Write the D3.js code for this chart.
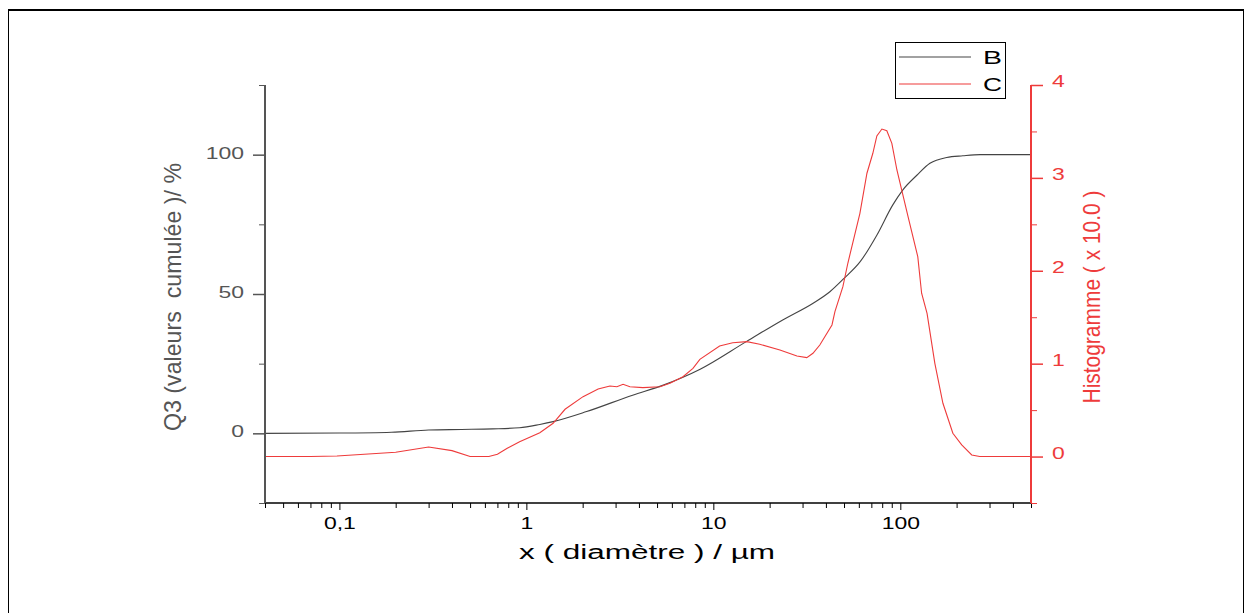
<!DOCTYPE html>
<html>
<head>
<meta charset="utf-8">
<script src="https://cdn.jsdelivr.net/npm/d3@7"></script>
<style>
  html, body { margin: 0; padding: 0; background: #fff; }
  svg { display: block; font-family: "Liberation Sans", Arial, sans-serif; }
</style>
</head>
<body>
<svg id="chart" width="1247" height="613"></svg>
<script>
// ---- data ----
const xTickValues = [0.1, 1, 10, 100];
const xTickLabels = ["0,1", "1", "10", "100"];
const leftTickValues = [0, 50, 100];
const rightTickValues = [0, 1, 2, 3, 4];

// B : cumulative curve Q3 (%), left axis
const bX = [0.04, 0.1, 0.19, 0.3, 0.45, 0.66, 0.92, 1.18, 1.39, 2.1, 3.7, 5.4, 8.5, 15, 23.5, 34, 42, 50, 61, 75, 91, 103, 123, 144, 177, 216, 267, 500];
const bY = [0, 0.1, 0.4, 1.2, 1.4, 1.6, 2.0, 3.2, 4.2, 7.8, 13.7, 17.3, 23.0, 32.9, 40.7, 46.6, 50.8, 55.6, 61.6, 71.2, 81.9, 87.3, 92.7, 96.9, 99.0, 99.6, 100, 100];

// C : histogram (x 10.0), right axis
const cX = [0.04, 0.07, 0.097, 0.2, 0.3, 0.4, 0.5, 0.63, 0.7, 0.79, 0.92, 1.18, 1.39, 1.61, 2.01, 2.42, 2.8, 3.05, 3.29, 3.58, 4.2, 5.18, 5.86, 6.88, 7.78, 8.47, 10.8, 12.7, 15.1, 17.7, 22.7, 28, 31.6, 34.1, 37.1, 43.1, 44.7, 49.3, 52.4, 60.8, 66.3, 71.3, 74.9, 79.7, 84.7, 90.1, 95.9, 110, 124, 130, 139, 153, 169, 191, 213, 241, 266, 500];
const cY = [0, 0, 0.006, 0.046, 0.103, 0.064, 0.0, 0.0, 0.025, 0.089, 0.16, 0.257, 0.358, 0.509, 0.645, 0.728, 0.76, 0.752, 0.778, 0.752, 0.742, 0.752, 0.789, 0.86, 0.95, 1.047, 1.19, 1.226, 1.237, 1.209, 1.147, 1.083, 1.065, 1.112, 1.201, 1.417, 1.56, 1.829, 2.081, 2.619, 3.05, 3.265, 3.451, 3.526, 3.508, 3.372, 3.085, 2.582, 2.152, 1.758, 1.542, 1.004, 0.574, 0.251, 0.125, 0.017, 0, 0];

const seriesNames = ["B", "C"];

// ---- layout ----
const svg = d3.select("#chart");
const plot = { left: 265, right: 1031, top: 85, bottom: 503 };
const grey = "#555";
const red = "#ee3b3b";
const stretch = 1.35; // horizontal stretch of horizontal texts in the reference
const tickFont = 17;

const x = d3.scaleLog().domain([0.04, 500]).range([plot.left, plot.right]);
const yL = d3.scaleLinear().domain([-25, 125]).range([plot.bottom, plot.top]);
const yR = d3.scaleLinear().domain([-0.5, 4]).range([plot.bottom, plot.top]);

function widen(sel, k) {
  sel.each(function () {
    const w = this.getComputedTextLength();
    this.setAttribute("textLength", w * k);
    this.setAttribute("lengthAdjust", "spacingAndGlyphs");
  });
}

// frame
svg.append("line").attr("x1", 8).attr("x2", 1244).attr("y1", 10).attr("y2", 10)
  .attr("stroke", "#000").attr("stroke-width", 2);
svg.append("line").attr("x1", 8.5).attr("x2", 8.5).attr("y1", 10).attr("y2", 613)
  .attr("stroke", "#000").attr("stroke-width", 1);
svg.append("line").attr("x1", 1243.5).attr("x2", 1243.5).attr("y1", 10).attr("y2", 613)
  .attr("stroke", "#000").attr("stroke-width", 1);

// ---- curves ----
const lineB = d3.line().x((d, i) => x(bX[i])).y(d => yL(d)).curve(d3.curveMonotoneX);
const lineC = d3.line().x((d, i) => x(cX[i])).y(d => yR(d)).curve(d3.curveLinear);

svg.append("path").datum(bY).attr("d", lineB)
  .attr("fill", "none").attr("stroke", "#444").attr("stroke-width", 1.1);
svg.append("path").datum(cY).attr("d", lineC)
  .attr("fill", "none").attr("stroke", red).attr("stroke-width", 1.1);

// ---- x axis ----
const xMinor = [];
[0.01, 0.1, 1, 10, 100].forEach(dec => {
  for (let k = 2; k <= 9; k++) {
    const v = dec * k;
    if (v >= 0.04 && v <= 500 && !xTickValues.includes(v)) xMinor.push(v);
  }
});
const gxMinor = svg.append("g").attr("transform", `translate(0,${plot.bottom})`)
  .call(d3.axisBottom(x).tickValues(xMinor).tickSize(5).tickFormat(""));
gxMinor.select(".domain").remove();
gxMinor.selectAll("line").attr("stroke", "#000");

const gx = svg.append("g").attr("transform", `translate(0,${plot.bottom})`)
  .call(d3.axisBottom(x).tickValues(xTickValues).tickSize(7).tickPadding(7)
    .tickFormat((d, i) => xTickLabels[i]));
gx.select(".domain").attr("d", `M${plot.left},0H${plot.right}`).attr("stroke", "#000").attr("stroke-width", 1.5);
gx.selectAll("line").attr("stroke", "#000");
gx.selectAll("text").attr("font-size", tickFont).attr("fill", "#000")
  .attr("font-family", "Liberation Sans, Arial, sans-serif").call(widen, stretch);

// ---- left axis ----
const gyMinor = svg.append("g").attr("transform", `translate(${plot.left},0)`)
  .call(d3.axisLeft(yL).tickValues([-25, 25, 75, 125]).tickSize(6).tickFormat(""));
gyMinor.select(".domain").remove();
gyMinor.selectAll("line").attr("stroke", grey);

const gy = svg.append("g").attr("transform", `translate(${plot.left},0)`)
  .call(d3.axisLeft(yL).tickValues(leftTickValues).tickSize(12).tickPadding(9).tickFormat(d3.format("d")));
gy.select(".domain").attr("d", `M0,${plot.top}V${plot.bottom}`).attr("stroke", grey).attr("stroke-width", 2);
gy.selectAll("line").attr("stroke", grey).attr("stroke-width", 1.5);
gy.selectAll("text").attr("font-size", tickFont).attr("fill", grey).attr("dy", "0.2em")
  .attr("font-family", "Liberation Sans, Arial, sans-serif").call(widen, stretch);

// ---- right axis ----
const grMinor = svg.append("g").attr("transform", `translate(${plot.right},0)`)
  .call(d3.axisRight(yR).tickValues([-0.5, 0.5, 1.5, 2.5, 3.5]).tickSize(6).tickFormat(""));
grMinor.select(".domain").remove();
grMinor.selectAll("line").attr("stroke", red);

const gr = svg.append("g").attr("transform", `translate(${plot.right},0)`)
  .call(d3.axisRight(yR).tickValues(rightTickValues).tickSize(12).tickPadding(9).tickFormat(d3.format("d")));
gr.select(".domain").attr("d", `M0,${plot.top}V${plot.bottom}`).attr("stroke", red).attr("stroke-width", 2);
gr.selectAll("line").attr("stroke", red).attr("stroke-width", 1.5);
gr.selectAll("text").attr("font-size", tickFont).attr("fill", red).attr("dy", "0.1em")
  .attr("font-family", "Liberation Sans, Arial, sans-serif").call(widen, stretch);

// ---- axis titles ----
svg.append("text").attr("x", 647).attr("y", 559).attr("text-anchor", "middle")
  .attr("font-size", 20).attr("fill", "#000")
  .attr("textLength", 256).attr("lengthAdjust", "spacingAndGlyphs")
  .text("x ( diamètre ) / µm");

svg.append("text").attr("transform", "translate(181,297) rotate(-90)")
  .attr("text-anchor", "middle").attr("font-size", 24).attr("fill", grey)
  .attr("textLength", 268).attr("lengthAdjust", "spacingAndGlyphs")
  .attr("xml:space", "preserve").style("white-space", "pre")
  .text("Q3 (valeurs  cumulée )/ %");

svg.append("text").attr("transform", "translate(1100,297) rotate(-90)")
  .attr("text-anchor", "middle").attr("font-size", 24).attr("fill", red)
  .attr("textLength", 213).attr("lengthAdjust", "spacingAndGlyphs")
  .text("Histogramme ( x 10.0 )");

// ---- legend ----
const lg = svg.append("g");
lg.append("rect").attr("x", 895.5).attr("y", 42.5).attr("width", 110).attr("height", 56)
  .attr("fill", "#fff").attr("stroke", "#000").attr("stroke-width", 1);
const legColors = ["#444", red];
seriesNames.forEach((name, i) => {
  const yy = 57 + i * 27;
  lg.append("line").attr("x1", 899).attr("x2", 971).attr("y1", yy).attr("y2", yy)
    .attr("stroke", legColors[i]).attr("stroke-width", 1.1);
  lg.append("text").attr("x", 983).attr("y", yy + 7).attr("font-size", 19).attr("fill", "#000")
    .attr("textLength", 19).attr("lengthAdjust", "spacingAndGlyphs").text(name);
});
</script>
</body>
</html>
